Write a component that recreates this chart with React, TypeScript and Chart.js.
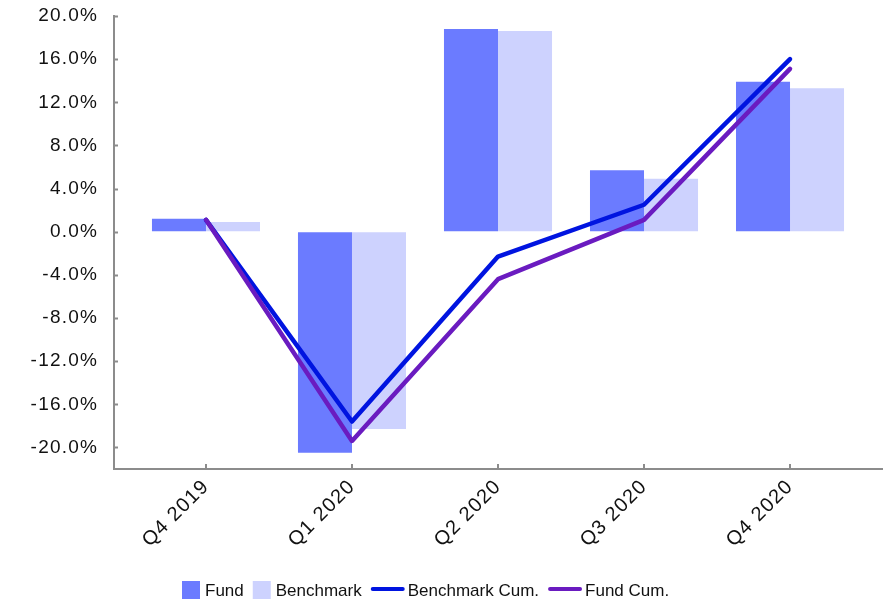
import { useEffect, useRef } from 'react';
import { Chart, registerables } from 'chart.js';

Chart.register(...registerables);

const categories = ['Q4 2019', 'Q1 2020', 'Q2 2020', 'Q3 2020', 'Q4 2020'];
const fundReturns = [1.2, -20.5, 18.8, 5.7, 13.9];
const benchmarkReturns = [0.9, -18.3, 18.6, 4.9, 13.3];
const benchmarkCum = [1.1, -17.6, -2.3, 2.5, 16.0];
const fundCum = [1.1, -19.4, -4.4, 1.1, 15.1];
const yTickValues = [-20, -16, -12, -8, -4, 0, 4, 8, 12, 16, 20];
const legendLabels = ['Fund', 'Benchmark', 'Benchmark Cum.', 'Fund Cum.'];

const FUND_COLOR = '#6B7BFF';
const BENCH_COLOR = '#CDD2FE';
const BENCH_CUM_COLOR = '#0014E0';
const FUND_CUM_COLOR = '#6A1BC0';
const AXIS_COLOR = '#8C8C8C';
const FONT = '"Liberation Sans", Arial, sans-serif';
const SPACING = '1.2px';

const decor = {
  id: 'decor',
  beforeUpdate(chart: any) {
    chart.ctx.letterSpacing = SPACING;
  },
  beforeDraw(chart: any) {
    chart.ctx.letterSpacing = SPACING;
  },
  afterDraw(chart: any) {
    const ctx = chart.ctx;
    const { left, bottom } = chart.chartArea;
    ctx.save();
    ctx.strokeStyle = AXIS_COLOR;
    ctx.lineWidth = 2;
    const ys = chart.scales.y;
    yTickValues.forEach((v) => {
      const py = Math.round(ys.getPixelForValue(v)) + 0.5;
      ctx.beginPath();
      ctx.moveTo(left, py);
      ctx.lineTo(left + 4, py);
      ctx.stroke();
    });
    const xs = chart.scales.x;
    categories.forEach((_, i) => {
      const px = Math.round(xs.getPixelForValue(i));
      ctx.beginPath();
      ctx.moveTo(px, bottom - 5);
      ctx.lineTo(px, bottom);
      ctx.stroke();
    });

    // legend
    ctx.letterSpacing = '0px';
    ctx.font = `17px ${FONT}`;
    ctx.textBaseline = 'middle';
    ctx.textAlign = 'left';
    const cy = 590;
    let x = 182;
    const kinds = ['box', 'box', 'line', 'line'];
    const colors = [FUND_COLOR, BENCH_COLOR, BENCH_CUM_COLOR, FUND_CUM_COLOR];
    legendLabels.forEach((label, i) => {
      if (kinds[i] === 'box') {
        ctx.fillStyle = colors[i];
        ctx.fillRect(x, cy - 9, 18, 18);
        x += 18 + 5;
      } else {
        ctx.strokeStyle = colors[i];
        ctx.lineWidth = 4;
        ctx.lineCap = 'round';
        ctx.beginPath();
        ctx.moveTo(x + 2, cy - 1);
        ctx.lineTo(x + 32, cy - 1);
        ctx.stroke();
        x += 34 + 3;
      }
      ctx.fillStyle = '#111111';
      ctx.fillText(label, x, cy + 1);
      x += ctx.measureText(label).width + 9;
    });
    ctx.restore();
  },
};

export default function App() {
  const ref = useRef<HTMLCanvasElement | null>(null);

  useEffect(() => {
    if (!ref.current) return;
    const toXY = (arr: number[]) => arr.map((y, i) => ({ x: i, y }));
    const chart = new Chart(ref.current, {
      type: 'bar',
      data: {
        datasets: [
          {
            type: 'line',
            label: 'Fund Cum.',
            data: toXY(fundCum),
            borderColor: FUND_CUM_COLOR,
            backgroundColor: FUND_CUM_COLOR,
            borderWidth: 4.5,
            borderCapStyle: 'round',
            borderJoinStyle: 'round',
            pointRadius: 0,
            order: 0,
          } as any,
          {
            type: 'line',
            label: 'Benchmark Cum.',
            data: toXY(benchmarkCum),
            borderColor: BENCH_CUM_COLOR,
            backgroundColor: BENCH_CUM_COLOR,
            borderWidth: 4.5,
            borderCapStyle: 'round',
            borderJoinStyle: 'round',
            pointRadius: 0,
            order: 1,
          } as any,
          {
            type: 'bar',
            label: 'Fund',
            data: toXY(fundReturns),
            backgroundColor: FUND_COLOR,
            categoryPercentage: 0.74,
            barPercentage: 1,
            order: 2,
          } as any,
          {
            type: 'bar',
            label: 'Benchmark',
            data: toXY(benchmarkReturns),
            backgroundColor: BENCH_COLOR,
            categoryPercentage: 0.74,
            barPercentage: 1,
            order: 3,
          } as any,
        ],
      },
      options: {
        responsive: false,
        animation: false,
        maintainAspectRatio: false,
        layout: { padding: { top: 16, right: 2, bottom: 0, left: 0 } },
        plugins: { legend: { display: false }, tooltip: { enabled: false } },
        scales: {
          x: {
            type: 'linear',
            offset: false,
            min: -0.63,
            max: 4.63,
            grid: { display: true, drawOnChartArea: false, drawTicks: false, offset: false },
            border: { display: true, color: AXIS_COLOR, width: 2 },
            afterBuildTicks: (scale: any) => {
              scale.ticks = categories.map((_, i) => ({ value: i }));
            },
            afterFit: (scale: any) => {
              scale.height = 131;
              scale.paddingLeft = 0;
              scale.paddingRight = 0;
            },
            ticks: {
              minRotation: 45,
              maxRotation: 45,
              padding: 6,
              color: '#111111',
              font: { family: FONT, size: 20 },
              callback: (v: any) => categories[Math.round(Number(v))] ?? '',
            },
          },
          y: {
            type: 'linear',
            min: -22,
            max: 20,
            grid: { display: true, drawOnChartArea: false, drawTicks: false },
            border: { display: true, color: AXIS_COLOR, width: 2 },
            afterBuildTicks: (scale: any) => {
              scale.ticks = yTickValues.map((v) => ({ value: v }));
            },
            afterFit: (scale: any) => {
              scale.width = 114;
              scale.paddingTop = 0;
              scale.paddingBottom = 0;
            },
            ticks: {
              padding: 16,
              color: '#111111',
              font: { family: FONT, size: 19 },
              callback: (v: any) => Number(v).toFixed(1) + '%',
            },
          },
        },
      },
      plugins: [decor],
    });
    return () => chart.destroy();
  }, []);

  return (
    <div style={{ position: 'fixed', left: 0, top: 0, width: 884, height: 600, background: '#ffffff' }}>
      <canvas ref={ref} width={884} height={600} style={{ width: 884, height: 600, display: 'block' }} />
    </div>
  );
}
